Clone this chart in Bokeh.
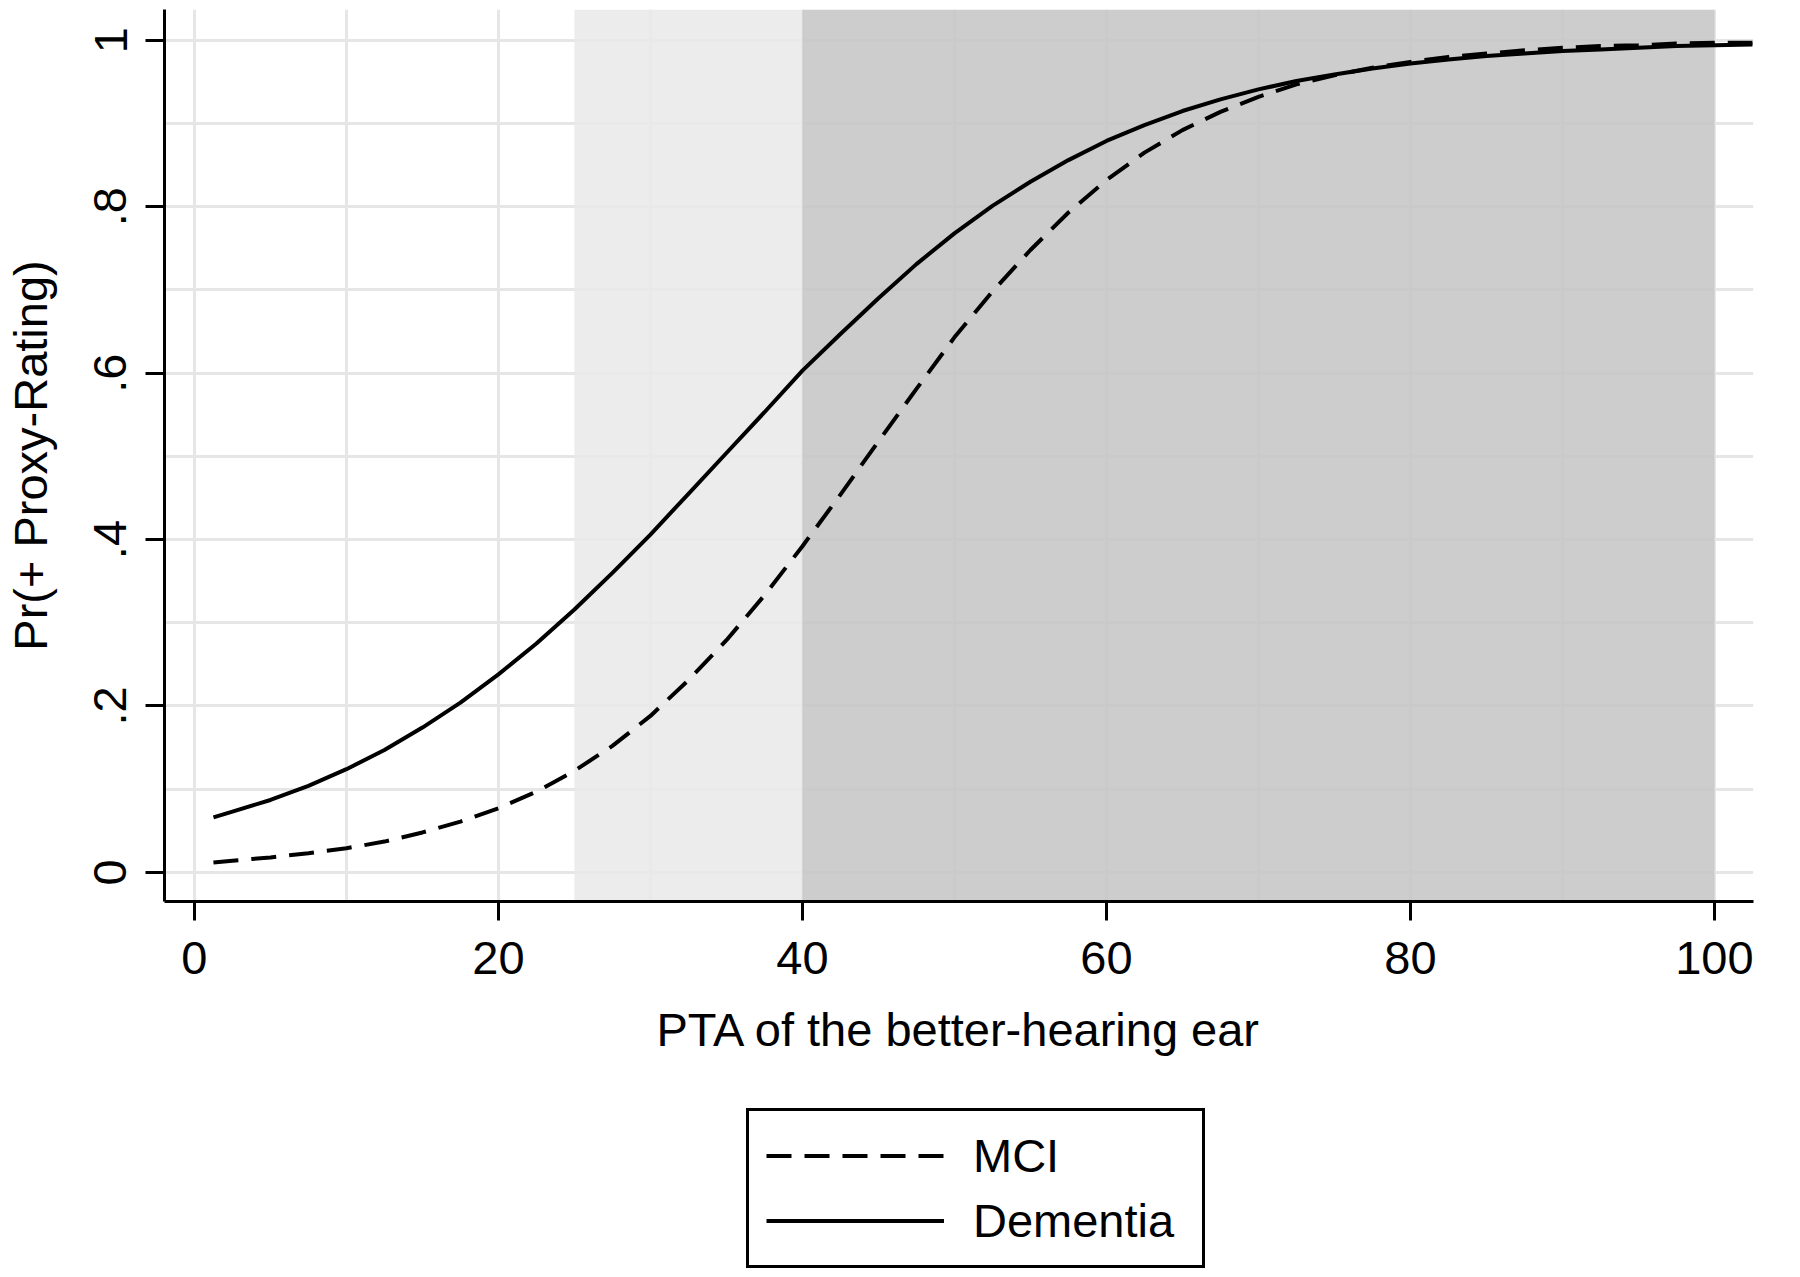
from bokeh.plotting import figure
from bokeh.layouts import column
from bokeh.models import Range1d, FixedTicker, Legend, LegendItem, CustomJSTickFormatter
from bokeh.embed import file_html
from bokeh.resources import INLINE

# ---- data ----
pta = [1.25, 2.5, 5, 7.5, 10, 12.5, 15, 17.5, 20, 22.5, 25, 27.5, 30, 32.5, 35, 37.5,
       40, 42.5, 45, 47.5, 50, 52.5, 55, 57.5, 60, 62.5, 65, 67.5, 70, 72.5, 75, 77.5,
       80, 82.5, 85, 87.5, 90, 92.5, 95, 97.5, 100, 102.5]
mci = [0.012, 0.014, 0.018, 0.023, 0.029, 0.037, 0.048, 0.061, 0.077, 0.097, 0.122, 0.152,
       0.188, 0.231, 0.279, 0.333, 0.392, 0.454, 0.518, 0.581, 0.643, 0.698, 0.748, 0.793,
       0.832, 0.865, 0.892, 0.914, 0.932, 0.947, 0.958, 0.967, 0.974, 0.980, 0.984, 0.988,
       0.991, 0.993, 0.994, 0.996, 0.997, 0.997]
dementia = [0.066, 0.073, 0.087, 0.104, 0.124, 0.147, 0.174, 0.204, 0.238, 0.275, 0.316,
            0.360, 0.406, 0.455, 0.504, 0.553, 0.603, 0.647, 0.690, 0.731, 0.768, 0.801,
            0.830, 0.856, 0.879, 0.898, 0.915, 0.929, 0.941, 0.951, 0.959, 0.966, 0.972,
            0.977, 0.981, 0.984, 0.987, 0.989, 0.991, 0.993, 0.994, 0.995]
band_light = [25, 40]
band_dark = [40, 100]
x_ticks = [0, 20, 40, 60, 80, 100]
y_ticks = [0, 0.2, 0.4, 0.6, 0.8, 1.0]
y_tick_labels = ["0", ".2", ".4", ".6", ".8", "1"]
x_grid = [0, 10, 20, 30, 40, 50, 60, 70, 80, 90, 100]
y_grid = [0, 0.1, 0.2, 0.3, 0.4, 0.5, 0.6, 0.7, 0.8, 0.9, 1.0]
series_names = ["MCI", "Dementia"]

FONT = "Liberation Sans"
FS = "47px"
DASH = "25 13"
LW = 4

Y0, Y1 = -0.035, 1.037
H1 = 1085
p = figure(width=1800, height=H1, output_backend="svg", toolbar_location=None,
           x_range=Range1d(-1.97, 102.57), y_range=Range1d(Y0, Y1),
           min_border_left=164, min_border_right=47, min_border_top=9,
           min_border_bottom=H1 - 901)
p.outline_line_color = None
p.background_fill_color = "white"
p.border_fill_color = "white"

# grid
p.xgrid.ticker = FixedTicker(ticks=x_grid)
p.ygrid.ticker = FixedTicker(ticks=y_grid)
for g in (p.xgrid, p.ygrid):
    g.grid_line_color = "#e6e6e6"
    g.grid_line_width = 3

# shaded bands (slightly transparent so grid faintly shows)
p.quad(left=[band_light[0]], right=[band_light[1]], bottom=[Y0], top=[Y1],
       fill_color="#e9e9e9", fill_alpha=0.88, line_color=None)
p.quad(left=[band_dark[0]], right=[band_dark[1]], bottom=[Y0], top=[Y1],
       fill_color="#c6c6c6", fill_alpha=0.88, line_color=None)

p.line(pta, mci, line_color="black", line_width=LW, line_dash=DASH)
p.line(pta, dementia, line_color="black", line_width=LW)

# axes
p.xaxis.ticker = FixedTicker(ticks=x_ticks)
p.yaxis.ticker = FixedTicker(ticks=y_ticks)
p.yaxis.formatter = CustomJSTickFormatter(args=dict(vals=y_ticks, labs=y_tick_labels), code="""
    for (let i = 0; i < vals.length; i++) { if (Math.abs(vals[i] - tick) < 1e-9) return labs[i]; }
    return "";
""")
p.xaxis.axis_label = "PTA of the better-hearing ear"
p.yaxis.axis_label = "Pr(+ Proxy-Rating)"
for ax in (p.xaxis, p.yaxis):
    ax.axis_line_color = "black"
    ax.axis_line_width = 3
    ax.major_tick_line_color = "black"
    ax.major_tick_line_width = 3
    ax.major_tick_out = 19
    ax.major_tick_in = 0
    ax.minor_tick_line_color = None
    ax.major_label_text_font = FONT
    ax.major_label_text_font_size = FS
    ax.major_label_text_color = "black"
    ax.axis_label_text_font = FONT
    ax.axis_label_text_font_size = FS
    ax.axis_label_text_font_style = "normal"
    ax.axis_label_text_color = "black"
p.yaxis.major_label_orientation = "vertical"
p.xaxis.major_label_standoff = 21
p.yaxis.major_label_standoff = 19
p.xaxis.axis_label_standoff = 26
p.yaxis.axis_label_standoff = 35

# ---- legend panel below the chart ----
H2 = 185
q = figure(width=1800, height=H2, output_backend="svg", toolbar_location=None,
           x_axis_type=None, y_axis_type=None, x_range=Range1d(0, 1), y_range=Range1d(0, 1),
           min_border_left=0, min_border_right=0, min_border_top=0, min_border_bottom=0)
q.outline_line_color = None
q.grid.visible = False
q.border_fill_color = "white"
q.background_fill_color = "white"
# off-range proxies so that the legend can draw its sample lines
l_mci = q.line([-10, -9], [-10, -9], line_color="black", line_width=LW, line_dash=DASH)
l_dem = q.line([-10, -9], [-10, -9], line_color="black", line_width=LW)

legend = Legend(items=[LegendItem(label=series_names[0], renderers=[l_mci]),
                       LegendItem(label=series_names[1], renderers=[l_dem])],
                location=(582, 2), orientation="vertical")
legend.label_text_font = FONT
legend.label_text_font_size = FS
legend.label_text_color = "black"
legend.glyph_width = 178
legend.glyph_height = 45
legend.label_standoff = 29
legend.label_width = 212
legend.spacing = 10
legend.padding = 17
legend.margin = 0
legend.border_line_color = "black"
legend.border_line_width = 3
legend.border_line_alpha = 1.0
legend.background_fill_color = "white"
legend.background_fill_alpha = 1.0
q.add_layout(legend, "center")

layout = column(p, q, spacing=0)
open("out.html", "w").write(file_html(layout, INLINE))
